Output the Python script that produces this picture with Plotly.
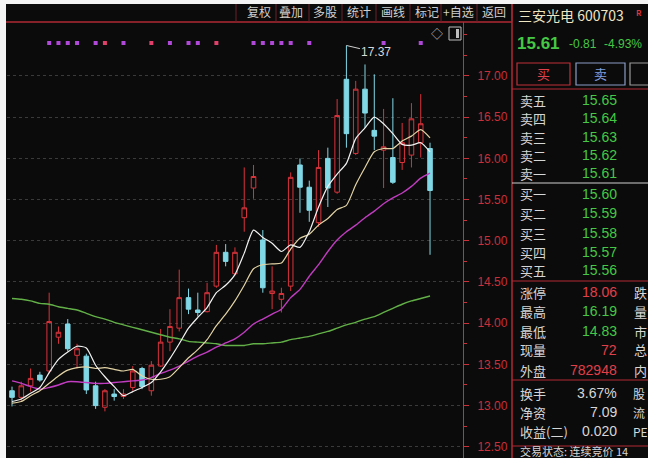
import plotly.graph_objects as go

# ---------------- data ----------------
opens = [13.18, 13.10, 13.24, 13.37, 13.42, 13.83, 13.99, 13.61, 13.60, 13.24,
         12.98, 13.14, 13.11, 13.22, 13.45, 13.18, 13.48, 13.77, 13.94, 14.31,
         14.16, 14.14, 14.45, 14.86, 14.60, 15.28, 15.64, 15.01, 14.36, 14.29,
         14.45, 15.92, 15.65, 15.22, 16.00, 15.59, 16.96, 16.06, 16.84, 16.34,
         16.10, 16.01, 15.95, 16.04, 16.19, 16.12]
highs = [13.23, 13.29, 13.45, 13.41, 14.37, 13.96, 14.05, 13.75, 13.63, 13.29,
         13.20, 13.20, 13.20, 13.48, 13.47, 13.54, 13.93, 14.17, 14.65, 14.42,
         14.37, 14.49, 14.95, 14.96, 14.92, 15.89, 15.92, 15.13, 14.69, 14.43,
         15.83, 16.00, 15.73, 16.10, 16.13, 16.72, 17.37, 16.94, 17.14, 17.02,
         16.60, 16.73, 16.43, 16.67, 16.78, 16.19]
lows = [12.99, 13.05, 13.17, 13.29, 13.39, 13.75, 13.66, 13.45, 13.14, 12.96,
        12.93, 13.06, 13.08, 13.18, 13.20, 13.12, 13.47, 13.66, 13.90, 14.11,
        14.08, 14.13, 14.43, 14.69, 14.58, 15.11, 15.51, 14.37, 14.17, 14.13,
        14.39, 15.34, 15.23, 15.17, 15.41, 15.57, 16.13, 16.04, 16.37, 16.10,
        15.64, 15.69, 15.86, 15.89, 16.01, 14.83]
closes = [13.10, 13.24, 13.33, 13.31, 14.02, 13.89, 13.69, 13.69, 13.19, 13.00,
          13.18, 13.11, 13.14, 13.42, 13.23, 13.49, 13.77, 13.96, 14.31, 14.17,
          14.13, 14.37, 14.86, 14.75, 14.86, 15.40, 15.78, 14.43, 14.39, 14.36,
          15.77, 15.65, 15.37, 15.89, 15.64, 16.52, 16.30, 16.84, 16.55, 16.27,
          16.14, 15.71, 16.19, 16.48, 16.42, 15.61]

ma5 = [13.05, 13.08, 13.15, 13.22, 13.40, 13.56, 13.65, 13.72, 13.70, 13.49,
       13.35, 13.23, 13.12, 13.17, 13.22, 13.28, 13.41, 13.57, 13.75, 13.94,
       14.07, 14.19, 14.37, 14.46, 14.59, 14.85, 15.13, 15.04, 14.97, 14.87,
       14.95, 14.92, 15.11, 15.41, 15.66, 15.81, 15.94, 16.24, 16.37, 16.50,
       16.42, 16.30, 16.17, 16.16, 16.19, 16.08]
ma10 = [13.03, 13.05, 13.12, 13.18, 13.27, 13.36, 13.43, 13.46, 13.47, 13.45,
        13.46, 13.44, 13.42, 13.44, 13.36, 13.32, 13.32, 13.35, 13.46, 13.58,
        13.68, 13.80, 13.97, 14.11, 14.27, 14.46, 14.66, 14.71, 14.72, 14.73,
        14.90, 15.03, 15.08, 15.19, 15.27, 15.38, 15.43, 15.68, 15.89, 16.08,
        16.12, 16.12, 16.21, 16.27, 16.35, 16.25]
ma20 = [13.30, 13.27, 13.23, 13.20, 13.22, 13.25, 13.29, 13.29, 13.28, 13.27,
        13.27, 13.28, 13.29, 13.30, 13.31, 13.34, 13.39, 13.43, 13.48, 13.54,
        13.60, 13.65, 13.71, 13.76, 13.81, 13.89, 13.99, 14.05, 14.11, 14.17,
        14.31, 14.41, 14.57, 14.71, 14.87, 15.01, 15.11, 15.19, 15.28, 15.36,
        15.45, 15.52, 15.58, 15.66, 15.76, 15.82]
ma60 = [14.30, 14.29, 14.27, 14.24, 14.23, 14.20, 14.18, 14.16, 14.12, 14.08,
        14.05, 14.01, 13.98, 13.95, 13.92, 13.89, 13.86, 13.83, 13.81, 13.78,
        13.77, 13.76, 13.75, 13.73, 13.73, 13.73, 13.75, 13.75, 13.76, 13.77,
        13.80, 13.82, 13.84, 13.87, 13.90, 13.94, 13.98, 14.01, 14.05, 14.08,
        14.13, 14.18, 14.23, 14.27, 14.30, 14.33]

signal_idx = [4, 5, 6, 7, 9, 10, 12, 15, 17, 19, 20, 22, 26, 27, 28, 29, 30, 32, 40, 44]
signal_kind = ["p", "p", "p", "p", "p", "r", "p", "r", "p", "p", "p", "r",
               "p", "p", "p", "p", "p", "p", "p", "p"]
signal_level = 17.40

peak_idx = 36
peak_label = "17.37"

price_ticks = [12.5, 13.0, 13.5, 14.0, 14.5, 15.0, 15.5, 16.0, 16.5, 17.0]

toolbar_items = ["复权", "叠加", "多股", "统计", "画线", "标记", "+自选", "返回"]

stock_name = "三安光电 600703"
last_price = "15.61"
change = "-0.81"
change_pct = "-4.93%"

book_labels = ["卖五", "卖四", "卖三", "卖二", "卖一", "买一", "买二", "买三", "买四", "买五"]
book_prices = ["15.65", "15.64", "15.63", "15.62", "15.61", "15.60", "15.59", "15.58", "15.57", "15.56"]

stat_labels = ["涨停", "最高", "最低", "现量", "外盘"]
stat_values = ["18.06", "16.19", "14.83", "72", "782948"]
stat_colors = ["red", "green", "green", "red", "red"]
stat_right = ["跌", "量", "市", "总", "内"]

fin_labels = ["换手", "净资", "收益(二)"]
fin_values = ["3.67%", "7.09", "0.020"]
fin_right = ["股", "流", "PE"]

status_text = "交易状态: 连续竞价 14"

# ---------------- styling ----------------
BG = "#0c0b0b"
RED = "#d8343c"
AXRED = "#c8303a"
CYAN = "#80d8e6"
GREEN = "#45c845"
LIGHT = "#d6d6d6"
FONT = "Noto Sans CJK SC, sans-serif"
NUMFONT = "Liberation Sans Narrow, Liberation Sans, Arial"

W, H = 648, 458
PL, PR, PT, PB = 7, 463, 22, 458


def X(px):
    return (px - PL) / (PR - PL)


def Y(py):
    return (PB - py) / (PB - PT)


xs = list(range(len(closes)))

fig = go.Figure()
fig.add_trace(go.Candlestick(
    x=xs, open=opens, high=highs, low=lows, close=closes,
    increasing=dict(line=dict(color=RED, width=1), fillcolor="rgba(0,0,0,0)"),
    decreasing=dict(line=dict(color=CYAN, width=1), fillcolor=CYAN),
    whiskerwidth=0, hoverinfo="skip", showlegend=False))

for vals, col, wd in [(ma60, "#62b048", 1.4), (ma20, "#c03cc0", 1.4),
                      (ma10, "#e2d4a6", 1.2), (ma5, "#f2f2f2", 1.2)]:
    fig.add_trace(go.Scatter(x=xs, y=vals, mode="lines",
                             line=dict(color=col, width=wd, shape="spline", smoothing=0.6),
                             hoverinfo="skip", showlegend=False))

fig.add_trace(go.Scatter(
    x=signal_idx, y=[signal_level] * len(signal_idx), mode="markers",
    marker=dict(symbol="square", size=4,
                color=["#e0406a" if k == "r" else "#b048d8" for k in signal_kind]),
    hoverinfo="skip", showlegend=False))

fig.update_layout(
    width=W, height=H,
    margin=dict(l=PL, r=W - PR, t=PT, b=H - PB),
    paper_bgcolor=BG, plot_bgcolor=BG,
    font=dict(family=FONT, color=LIGHT),
    xaxis=dict(range=[-0.54, 48.55], showticklabels=False, showgrid=False,
               zeroline=False, rangeslider=dict(visible=False), fixedrange=True),
    yaxis=dict(range=[12.364, 17.655], side="right", tickvals=price_ticks,
               ticktext=[f"{v:.2f}" for v in price_ticks],
               tickfont=dict(color=AXRED, size=12, family="Liberation Sans, Arial"),
               ticks="outside", ticklen=5, tickcolor=AXRED, ticklabelstandoff=6,
               showline=True, linecolor=AXRED, linewidth=1,
               showgrid=True, gridcolor="#3a3a3a", griddash="dot", gridwidth=1,
               zeroline=False, fixedrange=True,
               minor=dict(dtick=0.25, ticks="outside", ticklen=3, tickcolor=AXRED)),
)

shapes = []
anns = []

# toolbar
shapes.append(dict(type="line", xref="paper", yref="paper", x0=X(0), x1=X(512),
                   y0=Y(22), y1=Y(22), line=dict(color="#b02a34", width=1.5)))
for sx in [236, 276, 309, 342, 376, 410, 441, 477, 512]:
    shapes.append(dict(type="line", xref="paper", yref="paper", x0=X(sx), x1=X(sx),
                       y0=Y(0), y1=Y(22), line=dict(color="#6a2028", width=1)))
for t, cx in zip(toolbar_items, [259, 291, 325, 359, 393, 427, 458, 494]):
    anns.append(dict(text=t, x=X(cx), y=Y(11), xref="paper", yref="paper",
                     showarrow=False, font=dict(size=12, color="#cfcfcf", family=FONT),
                     xanchor="center", yanchor="middle"))

# panel divider
shapes.append(dict(type="line", xref="paper", yref="paper", x0=X(512), x1=X(512),
                   y0=Y(0), y1=Y(458), line=dict(color="#b02a34", width=1.5)))

# icons top right of chart
anns.append(dict(text="◇", x=X(437), y=Y(33), xref="paper", yref="paper", showarrow=False,
                 font=dict(size=12, color="#bdbdbd"), xanchor="center", yanchor="middle"))
shapes.append(dict(type="rect", xref="paper", yref="paper", x0=X(449), x1=X(461),
                   y0=Y(40), y1=Y(27), line=dict(color="#bdbdbd", width=1)))
shapes.append(dict(type="rect", xref="paper", yref="paper", x0=X(456), x1=X(459),
                   y0=Y(38), y1=Y(29), line=dict(color="#bdbdbd", width=0), fillcolor="#bdbdbd"))

# peak label
anns.append(dict(text=peak_label, x=xs[peak_idx], y=highs[peak_idx], xref="x", yref="y",
                 showarrow=True, arrowhead=0, arrowwidth=1, arrowcolor="#cfcfcf",
                 ax=30, ay=7, font=dict(size=12, color="#d8d8d8", family="Liberation Sans, Arial")))

# right panel: header
anns.append(dict(text=stock_name, x=X(516), y=Y(15), xref="paper", yref="paper",
                 showarrow=False, xanchor="left", yanchor="middle",
                 font=dict(size=14, color="#efe6c4", family=FONT)))
anns.append(dict(text="<b>R</b>", x=X(634), y=Y(12), xref="paper", yref="paper",
                 showarrow=False, xanchor="left", yanchor="middle",
                 font=dict(size=8, color=RED, family=FONT)))
anns.append(dict(text=f"<b>{last_price}</b>", x=X(515), y=Y(43), xref="paper", yref="paper",
                 showarrow=False, xanchor="left", yanchor="middle",
                 font=dict(size=17, color=GREEN, family="Liberation Sans, Arial")))
anns.append(dict(text=change, x=X(567), y=Y(44), xref="paper", yref="paper",
                 showarrow=False, xanchor="left", yanchor="middle",
                 font=dict(size=12, color=GREEN, family=NUMFONT)))
anns.append(dict(text=change_pct, x=X(602), y=Y(44), xref="paper", yref="paper",
                 showarrow=False, xanchor="left", yanchor="middle",
                 font=dict(size=12, color=GREEN, family=NUMFONT)))

# buttons
for (x0, x1, lc, txt, tc) in [(517, 570, "#c0303a", "买", "#e0404a"),
                              (576, 625, "#8a9cc8", "卖", "#7f9fe0"),
                              (630, 660, "#9a9a9a", "", "#9a9a9a")]:
    shapes.append(dict(type="rect", xref="paper", yref="paper", x0=X(x0), x1=X(x1),
                       y0=Y(85), y1=Y(63), line=dict(color=lc, width=1.2)))
    if txt:
        anns.append(dict(text=txt, x=X((x0 + x1) / 2), y=Y(74), xref="paper", yref="paper",
                         showarrow=False, xanchor="center", yanchor="middle",
                         font=dict(size=13, color=tc, family=FONT)))

# separator lines in right panel
for py, col in [(89, "#b02a34"), (183, "#cfcfcf"), (281, "#b02a34"), (380, "#b02a34"), (446, "#b02a34")]:
    shapes.append(dict(type="line", xref="paper", yref="paper", x0=X(512), x1=X(648),
                       y0=Y(py), y1=Y(py), line=dict(color=col, width=1.2)))

col_map = {"red": "#e0404a", "green": GREEN, "light": LIGHT}

book_y = [100, 118, 137, 155, 173, 194, 213, 233, 252, 270]
for lab, val, py in zip(book_labels, book_prices, book_y):
    anns.append(dict(text=lab, x=X(518), y=Y(py), xref="paper", yref="paper",
                     showarrow=False, xanchor="left", yanchor="middle",
                     font=dict(size=13, color=LIGHT, family=FONT)))
    anns.append(dict(text=val, x=X(619), y=Y(py), xref="paper", yref="paper",
                     showarrow=False, xanchor="right", yanchor="middle",
                     font=dict(size=14, color=GREEN, family=NUMFONT)))

stat_y = [292, 311, 331, 350, 370]
for lab, val, c, rl, py in zip(stat_labels, stat_values, stat_colors, stat_right, stat_y):
    anns.append(dict(text=lab, x=X(518), y=Y(py), xref="paper", yref="paper",
                     showarrow=False, xanchor="left", yanchor="middle",
                     font=dict(size=13, color=LIGHT, family=FONT)))
    anns.append(dict(text=val, x=X(619), y=Y(py), xref="paper", yref="paper",
                     showarrow=False, xanchor="right", yanchor="middle",
                     font=dict(size=14, color=col_map[c], family=NUMFONT)))
    anns.append(dict(text=rl, x=X(632), y=Y(py), xref="paper", yref="paper",
                     showarrow=False, xanchor="left", yanchor="middle",
                     font=dict(size=13, color=LIGHT, family=FONT)))

fin_y = [393, 412, 431]
for lab, val, rl, py in zip(fin_labels, fin_values, fin_right, fin_y):
    anns.append(dict(text=lab, x=X(518), y=Y(py), xref="paper", yref="paper",
                     showarrow=False, xanchor="left", yanchor="middle",
                     font=dict(size=13, color=LIGHT, family=FONT)))
    anns.append(dict(text=val, x=X(619), y=Y(py), xref="paper", yref="paper",
                     showarrow=False, xanchor="right", yanchor="middle",
                     font=dict(size=14, color=LIGHT, family=NUMFONT)))
    anns.append(dict(text=rl, x=X(631), y=Y(py), xref="paper", yref="paper",
                     showarrow=False, xanchor="left", yanchor="middle",
                     font=dict(size=12, color=LIGHT, family=FONT)))

anns.append(dict(text=status_text, x=X(518), y=Y(451), xref="paper", yref="paper",
                 showarrow=False, xanchor="left", yanchor="middle",
                 font=dict(size=11, color=LIGHT, family=FONT)))

# white photo border (left and top)
shapes.append(dict(type="rect", xref="paper", yref="paper", x0=X(0), x1=X(6),
                   y0=Y(458), y1=Y(0), line=dict(width=0), fillcolor="#f4f4f4"))
shapes.append(dict(type="rect", xref="paper", yref="paper", x0=X(0), x1=X(648),
                   y0=Y(4), y1=Y(0), line=dict(width=0), fillcolor="#f4f4f4"))

fig.update_layout(shapes=shapes, annotations=anns)
fig.write_html("out.html", config={"displayModeBar": False},
               post_script="document.body.style.margin='0';document.body.style.overflow='hidden';")
